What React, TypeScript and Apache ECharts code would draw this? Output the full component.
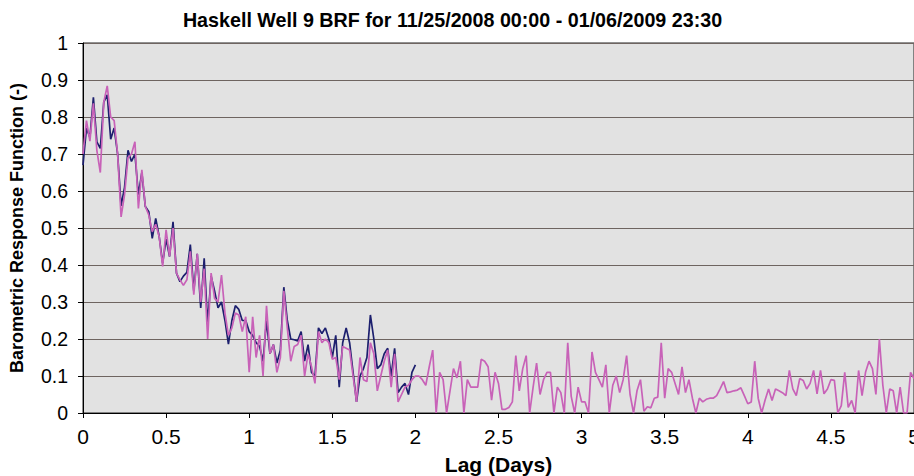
import React, { useEffect, useRef } from "react";
import * as echarts from "echarts";

const TITLE = "Haskell Well 9 BRF for 11/25/2008 00:00 - 01/06/2009 23:30";
const X_NAME = "Lag (Days)";
const Y_NAME = "Barometric Response Function (-)";
const LAG_STEP_DAYS = 1 / 48; // 30-minute lag step

// Dark blue series: lags 0 .. 2 days
const brfShort: number[] = [
  0.67, 0.77, 0.745, 0.853, 0.733, 0.715, 0.84, 0.86, 0.74, 0.77,
  0.70, 0.56, 0.61, 0.71, 0.68, 0.70, 0.59, 0.65, 0.558, 0.544,
  0.472, 0.526, 0.477, 0.405, 0.47, 0.423, 0.517, 0.378, 0.355, 0.37,
  0.38, 0.455, 0.33, 0.43, 0.284, 0.418, 0.24, 0.37, 0.33, 0.284,
  0.30, 0.25, 0.186, 0.25, 0.29, 0.28, 0.25, 0.25, 0.22, 0.21,
  0.19, 0.18, 0.14, 0.25, 0.16, 0.185, 0.135, 0.17, 0.34, 0.25,
  0.20, 0.198, 0.195, 0.22, 0.14, 0.185, 0.11, 0.10, 0.23, 0.215,
  0.23, 0.20, 0.15, 0.21, 0.07, 0.19, 0.23, 0.19, 0.11, 0.03,
  0.10, 0.12, 0.15, 0.265, 0.20, 0.12, 0.13, 0.16, 0.175, 0.10,
  0.175, 0.055, 0.07, 0.08, 0.05, 0.11, 0.13,
];

// Pink series: lags 0 .. 5 days
const brfLong: number[] = [
  0.70, 0.79, 0.735, 0.837, 0.71, 0.65, 0.84, 0.884, 0.80, 0.79,
  0.70, 0.53, 0.59, 0.69, 0.70, 0.733, 0.553, 0.657, 0.558, 0.535,
  0.49, 0.51, 0.477, 0.396, 0.495, 0.423, 0.50, 0.378, 0.36, 0.345,
  0.36, 0.437, 0.32, 0.43, 0.30, 0.39, 0.20, 0.378, 0.31, 0.30,
  0.373,
  0.27, 0.21, 0.23, 0.27, 0.265, 0.22, 0.26, 0.11, 0.26, 0.15,
  0.21, 0.10, 0.29, 0.16, 0.185, 0.11, 0.15, 0.33, 0.23, 0.14,
  0.18, 0.185, 0.21, 0.10, 0.16, 0.125, 0.08, 0.22, 0.19, 0.20,
  0.19, 0.145, 0.15, 0.09, 0.18, 0.175, 0.17, 0.10, 0.03, 0.15,
  0.09, 0.085, 0.19, 0.16, 0.06, 0.10, 0.14, 0.17, 0.07, 0.16,
  0.03, 0.05, 0.07, 0.075, 0.09, 0.10, 0.10, 0.09, 0.075, 0.125,
  0.17, 0.0, 0.11, 0.09, 0.0, 0.06, 0.12, 0.095, 0.14, 0.0,
  0.09, 0.07, 0.07, 0.07, 0.145, 0.14, 0.125, 0.035, 0.11, 0.08,
  0.01, 0.01, 0.015, 0.03, 0.155, 0.06, 0.12, 0.155, 0.0, 0.07,
  0.135, 0.05, 0.09, 0.11, 0.11, 0.0, 0.07, 0.055, 0.0, 0.19,
  0.045, 0.0, 0.07, 0.03, 0.03, 0.0, 0.165, 0.11, 0.09, 0.07,
  0.13, 0.0, 0.075, 0.10, 0.055, 0.09, 0.155, 0.05, 0.0, 0.06,
  0.09, 0.005, 0.017, 0.014, 0.04, 0.043, 0.19, 0.04, 0.12, 0.11,
  0.08, 0.05, 0.125, 0.055, 0.09, 0.04, 0.0, 0.04, 0.03, 0.037,
  0.04, 0.04, 0.047, 0.065, 0.085, 0.055, 0.057, 0.06, 0.062, 0.068,
  0.047, 0.025, 0.03, 0.14, 0.04, 0.0, 0.035, 0.065, 0.034, 0.065,
  0.06, 0.055, 0.047, 0.115, 0.065, 0.047, 0.093, 0.088, 0.065, 0.08,
  0.115, 0.052, 0.115, 0.052, 0.065, 0.09, 0.088, 0.0, 0.02, 0.11,
  0.015, 0.034, 0.0, 0.115, 0.047, 0.11, 0.14, 0.12, 0.05, 0.2,
  0.075, 0.0, 0.065, 0.06, 0.0, 0.07, 0.0, 0.0, 0.11, 0.093,
];

const toPairs = (vals: number[]) => vals.map((v, i) => [i * LAG_STEP_DAYS, v]);

const FONT = "'Liberation Sans', Arial, Helvetica, sans-serif";

export default function App() {
  const ref = useRef<HTMLDivElement>(null);

  useEffect(() => {
    if (!ref.current) return;
    const chart = echarts.init(ref.current, null, { renderer: "svg" });
    chart.setOption({
      animation: false,
      backgroundColor: "#ffffff",
      graphic: [
        {
          type: "text",
          x: 452.5,
          y: 19.5,
          style: {
            text: TITLE,
            fontFamily: FONT,
            fontWeight: "bold",
            fontSize: 19.7,
            fill: "#000",
            textAlign: "center",
            textVerticalAlign: "middle",
          },
        },
      ],
      grid: {
        left: 83,
        right: 0,
        top: 43,
        bottom: 63,
        show: true,
        backgroundColor: "#e2e2e2",
        borderColor: "#222",
        borderWidth: 1,
        outerBoundsMode: "none",
        containLabel: false,
      },
      xAxis: {
        type: "value",
        min: 0,
        max: 5,
        interval: 0.5,
        name: X_NAME,
        nameLocation: "middle",
        nameGap: 41,
        nameTextStyle: { fontFamily: FONT, fontWeight: "bold", fontSize: 21, color: "#000" },
        axisLine: { show: true, lineStyle: { color: "#000", width: 1 } },
        axisTick: { show: true, length: 5, lineStyle: { color: "#000" } },
        axisLabel: { fontFamily: FONT, fontSize: 21, color: "#000", margin: 13 },
        splitLine: { show: false },
      },
      yAxis: {
        type: "value",
        min: 0,
        max: 1,
        interval: 0.1,
        name: Y_NAME,
        nameLocation: "middle",
        nameGap: 57,
        nameTextStyle: { fontFamily: FONT, fontWeight: "bold", fontSize: 18, color: "#000" },
        axisLine: { show: true, lineStyle: { color: "#000", width: 1 } },
        axisTick: { show: true, length: 5, lineStyle: { color: "#000" } },
        axisLabel: { fontFamily: FONT, fontSize: 19.5, color: "#000", margin: 15 },
        splitLine: { show: true, lineStyle: { color: "#6e6460", width: 1 } },
      },
      series: [
        {
          type: "line",
          name: "BRF 0-2 days",
          data: toPairs(brfShort),
          showSymbol: false,
          lineStyle: { color: "#1c1f6e", width: 1.7 },
          itemStyle: { color: "#1c1f6e" },
          z: 2,
        },
        {
          type: "line",
          name: "BRF 0-5 days",
          data: toPairs(brfLong),
          showSymbol: false,
          lineStyle: { color: "#c862b8", width: 1.7 },
          itemStyle: { color: "#c862b8" },
          z: 3,
        },
      ],
    });
    return () => chart.dispose();
  }, []);

  return (
    <div
      ref={ref}
      style={{ position: "fixed", left: 0, top: 0, width: 914, height: 476, background: "#fff" }}
    />
  );
}
